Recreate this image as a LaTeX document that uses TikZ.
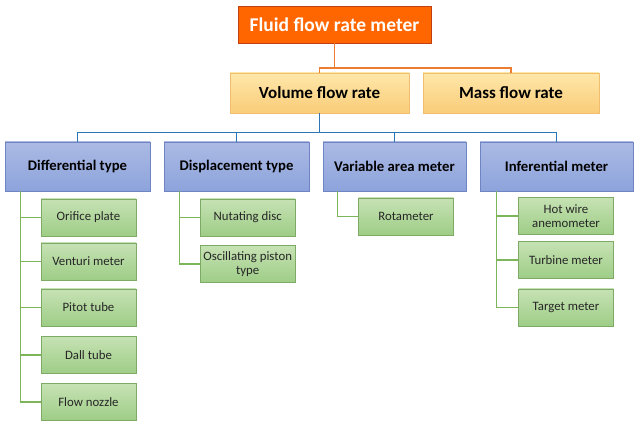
\documentclass[tikz,border=0pt]{standalone}
\usepackage{fontspec}
\setmainfont{Carlito}
\usetikzlibrary{calc}

\definecolor{rootfill}{RGB}{255,102,0}
\definecolor{rootedge}{RGB}{192,64,20}
\definecolor{orline}{RGB}{237,125,49}
\definecolor{yeltop}{RGB}{255,231,170}
\definecolor{yelbot}{RGB}{249,204,120}
\definecolor{yeledge}{RGB}{240,190,110}
\definecolor{bluetop}{RGB}{172,186,228}
\definecolor{bluebot}{RGB}{140,163,219}
\definecolor{blueedge}{RGB}{110,132,195}
\definecolor{bline}{RGB}{46,117,182}
\definecolor{grtop}{RGB}{198,226,180}
\definecolor{grbot}{RGB}{158,205,134}
\definecolor{gredge}{RGB}{125,170,100}
\definecolor{gline}{RGB}{125,182,90}

\begin{document}
\begin{tikzpicture}[x=1pt,y=-1pt,
    rootbox/.style={draw=rootedge, fill=rootfill, text=white, minimum width=193pt, minimum height=37pt,
      font=\fontsize{19.5}{22}\selectfont\bfseries},
    flowbox/.style={draw=yeledge, top color=yeltop, bottom color=yelbot, minimum height=40pt,
      font=\fontsize{17}{20}\selectfont\bfseries},
    typebox/.style={draw=blueedge, top color=bluetop, bottom color=bluebot, minimum height=49pt,
      font=\fontsize{14.7}{17}\selectfont\bfseries},
    leafbox/.style={draw=gredge, top color=grtop, bottom color=grbot, minimum width=95pt, minimum height=37pt,
      inner xsep=1pt, align=center, text=black!85, font=\fontsize{12.8}{14.5}\selectfont},
    orconn/.style={draw=orline, line width=1.2pt},
    blconn/.style={draw=bline, line width=1pt},
    grconn/.style={draw=gline, line width=1.1pt}]
  \useasboundingbox (0,0) rectangle (640,427);

  % top levels
  \node[rootbox] (top) at (334.5,24.5) {Fluid flow rate meter};
  \node[flowbox, minimum width=179pt] (vol) at (319.5,93) {Volume flow rate};
  \node[flowbox, minimum width=176pt] (mass) at (511,93) {Mass flow rate};

  \node[typebox, minimum width=145pt] (diff) at (77.5,166.5) {Differential type};
  \node[typebox, minimum width=145pt] (disp) at (236.5,166.5) {Displacement type};
  \node[typebox, minimum width=143pt] (var) at (394.5,166.5) {Variable area meter};
  \node[typebox, minimum width=153pt] (inf) at (556.5,166.5) {Inferential meter};

  % leaves
  \node[leafbox] (orifice) at (88.5,217.5) {Orifice plate};
  \node[leafbox] (venturi) at (88.5,261.5) {Venturi meter};
  \node[leafbox] (pitot) at (88.5,307.5) {Pitot tube};
  \node[leafbox] (dall) at (88.5,355) {Dall tube};
  \node[leafbox] (nozzle) at (88.5,402) {Flow nozzle};

  \node[leafbox] (nutating) at (247.7,217.5) {Nutating disc};
  \node[leafbox] (piston) at (247.7,264) {Oscillating piston\\type};

  \node[leafbox] (rota) at (406,216.5) {Rotameter};

  \node[leafbox] (hotwire) at (566,216) {Hot wire\\anemometer};
  \node[leafbox] (turbine) at (566,260) {Turbine meter};
  \node[leafbox] (target) at (566,307.5) {Target meter};

  % connectors
  \coordinate (obus) at (0,68);
  \coordinate (bbus) at (0,133);
  \draw[orconn] (top.south) -- (top.south |- obus);
  \draw[orconn] (vol.north) |- (mass.north |- obus) -- (mass.north);

  \draw[blconn] (vol.south) -- (vol.south |- bbus);
  \draw[blconn] (diff.north) |- (inf.north |- bbus) -- (inf.north);
  \draw[blconn] (disp.north) -- (disp.north |- bbus);
  \draw[blconn] (var.north) -- (var.north |- bbus);

  \coordinate (dtrunk) at ($(diff.south west)+(15.7,0)$);
  \coordinate (ptrunk) at ($(disp.south west)+(15.3,0)$);
  \coordinate (vtrunk) at ($(var.south west)+(14.7,0)$);
  \coordinate (itrunk) at ($(inf.south west)+(16.7,0)$);

  \draw[grconn] (dtrunk) |- (nozzle.west);
  \foreach \leaf in {orifice,venturi,pitot,dall}
    \draw[grconn] (dtrunk |- \leaf.west) -- (\leaf.west);
  \draw[grconn] (ptrunk) |- (piston.west);
  \draw[grconn] (ptrunk |- nutating.west) -- (nutating.west);
  \draw[grconn] (vtrunk) |- (rota.west);
  \draw[grconn] (itrunk) |- (target.west);
  \foreach \leaf in {hotwire,turbine}
    \draw[grconn] (itrunk |- \leaf.west) -- (\leaf.west);
\end{tikzpicture}
\end{document}
